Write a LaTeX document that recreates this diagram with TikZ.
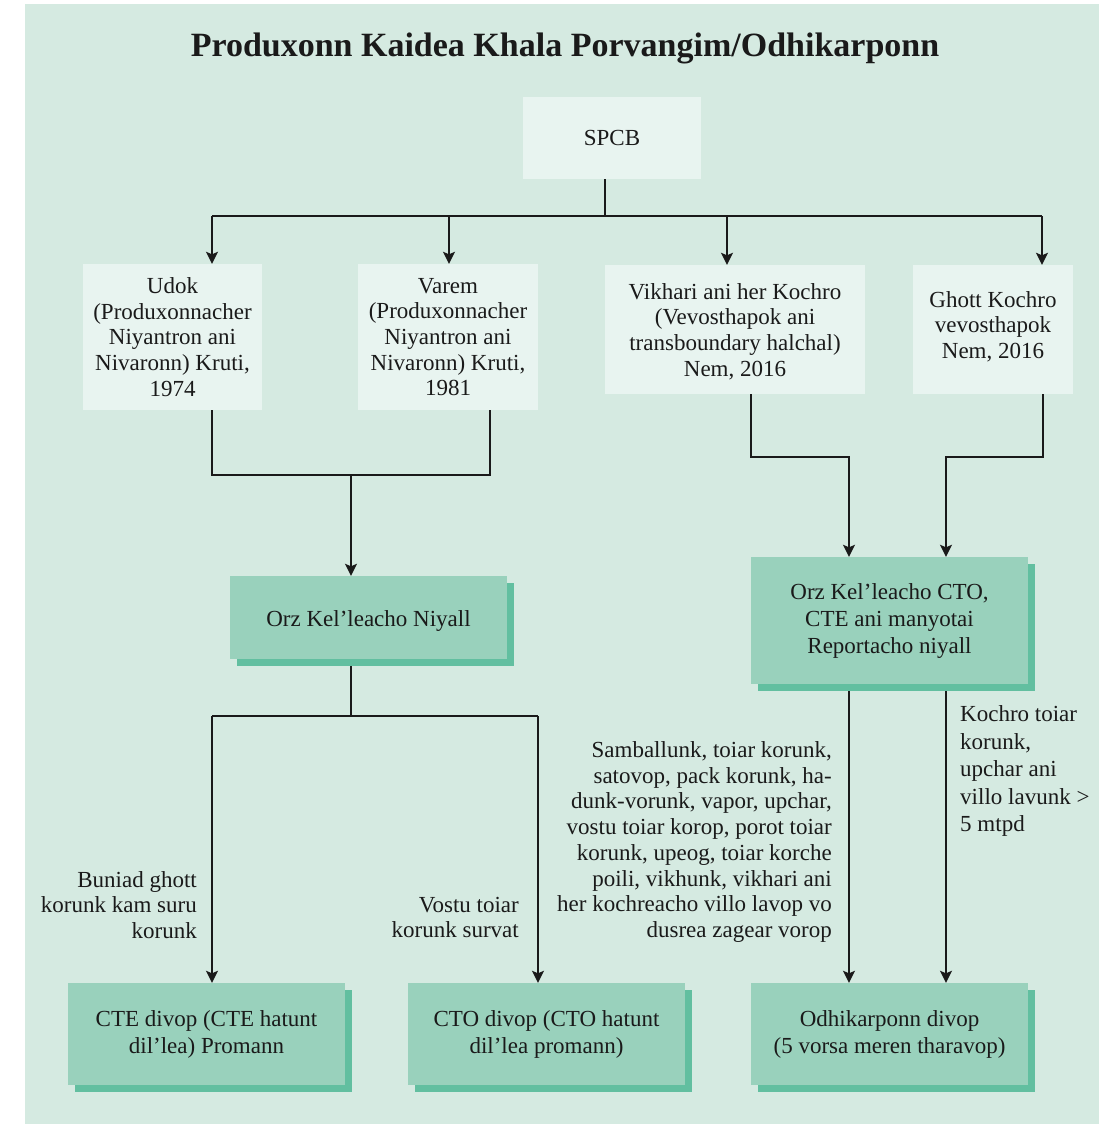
\documentclass[tikz,border=0pt]{standalone}
\usepackage{fontspec}
\setmainfont{Liberation Serif}
\usetikzlibrary{arrows.meta,shadows}
\definecolor{bgc}{HTML}{D5EAE1}
\definecolor{lightbox}{HTML}{E8F4F0}
\definecolor{greenbox}{HTML}{99D1BC}
\definecolor{shadowgreen}{HTML}{62BFA0}
\definecolor{ink}{HTML}{1A1A1A}
\pgfdeclarelayer{back}
\pgfdeclarelayer{lines}
\pgfsetlayers{back,lines,main}
\begin{document}
\begin{tikzpicture}[x=1pt,y=-1pt,
  font=\fontsize{23}{25.7}\selectfont,
  lbox/.style={fill=lightbox, draw=none, inner sep=0pt, align=center, text=ink},
  gbox/.style={fill=greenbox, draw=none, inner sep=0pt, align=center, text=ink,
    font=\fontsize{23}{27}\selectfont,
    drop shadow={shadow xshift=7pt, shadow yshift=-7pt, fill=shadowgreen, opacity=1}},
  lbl/.style={inner sep=0pt, text=ink},
  conn/.style={draw=ink, line width=1.7pt},
  arr/.style={conn, -{Stealth[length=12pt,width=12pt,inset=2.5pt]}}]
\useasboundingbox (0,0) rectangle (1113,1124);
\begin{pgfonlayer}{back}
\fill[bgc] (25,4) rectangle (1099,1124);
\end{pgfonlayer}

\node[text=ink, font=\fontsize{34}{40}\selectfont\bfseries] (title) at (565,48) {Produxonn Kaidea Khala Porvangim/Odhikarponn};

\node[lbox, minimum width=178pt, minimum height=82pt] (spcb) at (612,138) {SPCB};
\node[lbox, minimum width=179pt, minimum height=146pt] (udok) at (172.5,337) {Udok\\(Produxonnacher\\Niyantron ani\\Nivaronn) Kruti,\\1974};
\node[lbox, minimum width=180pt, minimum height=146pt] (varem) at (448,337) {Varem\\(Produxonnacher\\Niyantron ani\\Nivaronn) Kruti,\\1981};
\node[lbox, minimum width=260pt, minimum height=129pt] (vikh) at (735,329.5) {};
\node[lbl, align=center] (vikhT) at ([yshift=-2pt]vikh.center) {Vikhari ani her Kochro\\(Vevosthapok ani\\transboundary halchal)\\Nem, 2016};
\node[lbox, minimum width=160pt, minimum height=129pt] (ghott) at (993,329.5) {};
\node[lbl, align=center] (ghottT) at ([yshift=3pt]ghott.center) {Ghott Kochro\\vevosthapok\\Nem, 2016};

\node[gbox, minimum width=277pt, minimum height=83pt] (niyall) at (368.5,617.5) {};
\node[lbl, font=\fontsize{23}{27}\selectfont] (niyallT) at ([yshift=-3pt]niyall.center) {Orz Kel’leacho Niyall};
\node[gbox, minimum width=277pt, minimum height=127pt] (orzc) at (889.5,620.5) {Orz Kel’leacho CTO,\\CTE ani manyotai\\Reportacho niyall};
\node[gbox, minimum width=277pt, minimum height=102pt] (cte) at (206.5,1034) {CTE divop (CTE hatunt\\dil’lea) Promann};
\node[gbox, minimum width=277pt, minimum height=102pt] (cto) at (546.5,1034) {CTO divop (CTO hatunt\\dil’lea promann)};
\node[gbox, minimum width=277pt, minimum height=102pt] (odhi) at (889.5,1034) {Odhikarponn divop\\(5 vorsa meren tharavop)};

\node[lbl, align=right, anchor=east] (la) at (197,905) {Buniad ghott\\korunk kam suru\\korunk};
\node[lbl, align=right, anchor=east] (lb) at (519,917.5) {Vostu toiar\\korunk survat};
\node[lbl, align=right, anchor=east] (lc) at (832,842) {Samballunk, toiar korunk,\\satovop, pack korunk, ha-\\dunk-vorunk, vapor, upchar,\\vostu toiar korop, porot toiar\\korunk, upeog, toiar korche\\poili, vikhunk, vikhari ani\\her kochreacho villo lavop vo\\dusrea zagear vorop};
\node[lbl, align=left, anchor=west, font=\fontsize{23}{27.5}\selectfont] (ld) at (960,771) {Kochro toiar\\korunk,\\upchar ani\\villo lavunk >\\5 mtpd};

\coordinate (t0) at (605,216);
\coordinate (t1) at (212,216);
\coordinate (t2) at (449,216);
\coordinate (t3) at (727,216);
\coordinate (t4) at (1042,216);
\coordinate (m1) at (212,475);
\coordinate (m2) at (490,475);
\coordinate (m3) at (351,475);
\coordinate (s0) at (351,716);
\coordinate (s1) at (212,716);
\coordinate (s2) at (538,716);
\coordinate (r1) at (751,457);
\coordinate (r2) at (849,457);
\coordinate (r3) at (1043,457);
\coordinate (r4) at (946,457);

\begin{pgfonlayer}{lines}
\draw[conn] (spcb.south -| t0) -- (t0);
\draw[conn] (t1) -- (t4);
\draw[arr] (t1) -- (t1 |- udok.north);
\draw[arr] (t2) -- (t2 |- varem.north);
\draw[arr] (t3) -- (t3 |- vikh.north);
\draw[arr] (t4) -- (t4 |- ghott.north);
\draw[conn] (m1 |- udok.south) -- (m1) -- (m2) -- (m2 |- varem.south);
\draw[arr] (m3) -- (m3 |- niyall.north);
\draw[conn] (s0 |- niyall.south) -- (s0);
\draw[conn] (s1) -- (s2);
\draw[arr] (s1) -- (s1 |- cte.north);
\draw[arr] (s2) -- (s2 |- cto.north);
\draw[arr] (r1 |- vikh.south) -- (r1) -- (r2) -- (r2 |- orzc.north);
\draw[arr] (r3 |- ghott.south) -- (r3) -- (r4) -- (r4 |- orzc.north);
\draw[arr] (r2 |- orzc.south) -- (r2 |- odhi.north);
\draw[arr] (r4 |- orzc.south) -- (r4 |- odhi.north);
\end{pgfonlayer}
\end{tikzpicture}
\end{document}
